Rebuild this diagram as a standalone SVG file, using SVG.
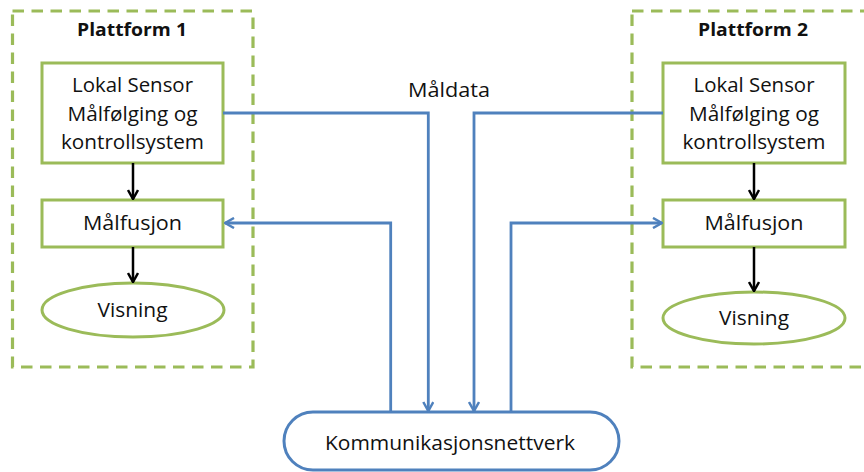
<svg xmlns="http://www.w3.org/2000/svg" width="864" height="472" viewBox="0 0 864 472">
  <style>
    .platform { fill: none; stroke: #9BBB59; stroke-width: 3.2; stroke-dasharray: 11.5 7.5; }
    .box { fill: #FFFFFF; stroke: #9BBB59; stroke-width: 3; }
    .pill { fill: #FFFFFF; stroke: #4F81BD; stroke-width: 3; }
    .lbl { font-family: "Open Sans", "Liberation Sans", sans-serif; font-size: 20px; fill: #111111; text-anchor: middle; }
    .title { font-family: "Open Sans", "Liberation Sans", sans-serif; font-size: 18.5px; font-weight: bold; fill: #111111; text-anchor: middle; }
    .flow { fill: none; stroke: #000000; stroke-width: 2.5; }
    .net { fill: none; stroke: #4F81BD; stroke-width: 2.8; }
  </style>
  <defs>
    <marker id="blackHead" viewBox="0 0 12 12" refX="11" refY="6" markerWidth="12" markerHeight="12" markerUnits="userSpaceOnUse" orient="auto">
      <path d="M2,1 L11,6 L2,11" fill="none" stroke="#000000" stroke-width="2.5"/>
    </marker>
    <marker id="blueHead" viewBox="0 0 12 12" refX="11" refY="6" markerWidth="12" markerHeight="12" markerUnits="userSpaceOnUse" orient="auto">
      <path d="M2,1 L11,6 L2,11" fill="none" stroke="#4F81BD" stroke-width="2.5"/>
    </marker>
  </defs>
  <rect width="864" height="472" fill="#FFFFFF"/>

  <!-- Platform 1 -->
  <g id="plattform1">
    <rect class="platform" x="12.5" y="11" width="240.5" height="356"/>
    <text class="title" x="132" y="36" textLength="110" lengthAdjust="spacingAndGlyphs">Plattform 1</text>
  </g>
  <g id="sensor1">
    <rect class="box" x="42" y="63" width="181" height="100"/>
    <text class="lbl" x="132.5" y="92" textLength="121" lengthAdjust="spacingAndGlyphs">Lokal Sensor</text>
    <text class="lbl" x="132.5" y="121" textLength="130" lengthAdjust="spacingAndGlyphs">Målfølging og</text>
    <text class="lbl" x="132.5" y="149" textLength="143" lengthAdjust="spacingAndGlyphs">kontrollsystem</text>
  </g>
  <g id="fusjon1">
    <rect class="box" x="42" y="200" width="181" height="47"/>
    <text class="lbl" x="132.5" y="230" textLength="99" lengthAdjust="spacingAndGlyphs">Målfusjon</text>
  </g>
  <g id="visning1">
    <ellipse class="box" cx="133" cy="310" rx="91" ry="27"/>
    <text class="lbl" x="132.5" y="317" textLength="70" lengthAdjust="spacingAndGlyphs">Visning</text>
  </g>

  <!-- Platform 2 -->
  <g id="plattform2">
    <rect class="platform" x="632" y="11" width="250" height="356"/>
    <text class="title" x="753" y="36" textLength="110" lengthAdjust="spacingAndGlyphs">Plattform 2</text>
  </g>
  <g id="sensor2">
    <rect class="box" x="663" y="63" width="182" height="100"/>
    <text class="lbl" x="754" y="92" textLength="121" lengthAdjust="spacingAndGlyphs">Lokal Sensor</text>
    <text class="lbl" x="754" y="121" textLength="130" lengthAdjust="spacingAndGlyphs">Målfølging og</text>
    <text class="lbl" x="754" y="149" textLength="143" lengthAdjust="spacingAndGlyphs">kontrollsystem</text>
  </g>
  <g id="fusjon2">
    <rect class="box" x="663" y="200" width="182" height="47"/>
    <text class="lbl" x="754" y="230" textLength="99" lengthAdjust="spacingAndGlyphs">Målfusjon</text>
  </g>
  <g id="visning2">
    <ellipse class="box" cx="754" cy="318" rx="91" ry="26"/>
    <text class="lbl" x="754" y="325" textLength="70" lengthAdjust="spacingAndGlyphs">Visning</text>
  </g>

  <!-- Network -->
  <g id="nettverk">
    <rect class="pill" x="284" y="412" width="335" height="58" rx="29" ry="29"/>
    <text class="lbl" x="450" y="450" textLength="250" lengthAdjust="spacingAndGlyphs">Kommunikasjonsnettverk</text>
  </g>

  <!-- Connectors -->
  <g id="connectors">
    <line class="flow" x1="133" y1="163" x2="133" y2="199" marker-end="url(#blackHead)"/>
    <line class="flow" x1="133" y1="247" x2="133" y2="282" marker-end="url(#blackHead)"/>
    <line class="flow" x1="754" y1="163" x2="754" y2="199" marker-end="url(#blackHead)"/>
    <line class="flow" x1="754" y1="247" x2="754" y2="291" marker-end="url(#blackHead)"/>

    <polyline class="net" points="223,113 428.3,113 428.3,411" marker-end="url(#blueHead)"/>
    <polyline class="net" points="663,113 474,113 474,411" marker-end="url(#blueHead)"/>
    <polyline class="net" points="390.7,412 390.7,223 225,223" marker-end="url(#blueHead)"/>
    <polyline class="net" points="511,412 511,223 662,223" marker-end="url(#blueHead)"/>
    <text class="lbl" x="449" y="97" textLength="82" lengthAdjust="spacingAndGlyphs">Måldata</text>
  </g>
</svg>
